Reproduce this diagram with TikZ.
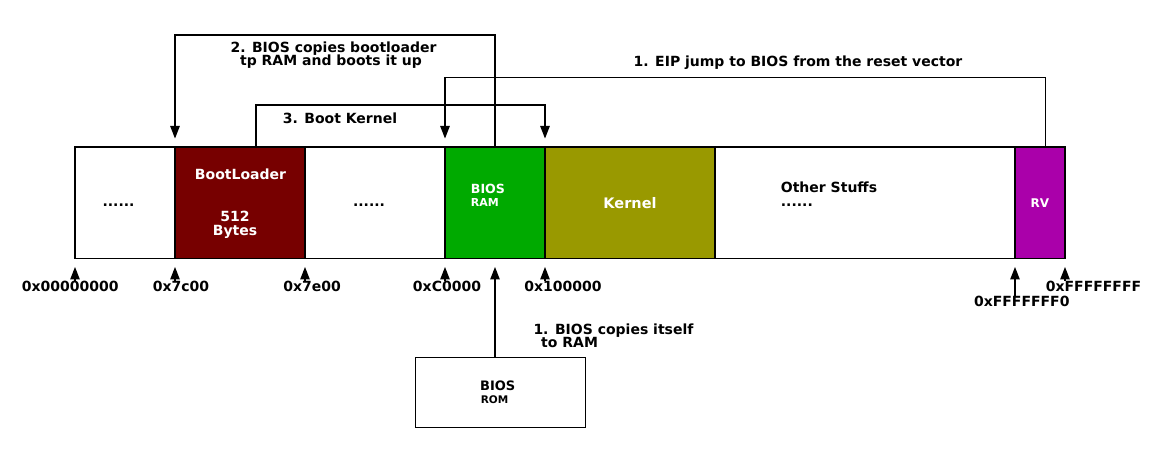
\documentclass[tikz,border=0pt]{standalone}
\usepackage{fontspec}
\setmainfont{DejaVu Sans}
\usetikzlibrary{arrows.meta}
\definecolor{bootred}{HTML}{770000}
\definecolor{biosgreen}{HTML}{00AA00}
\definecolor{kernelolive}{HTML}{999900}
\definecolor{rvpurple}{HTML}{AA00AA}
\tikzset{
  seg/.style={draw=black, line width=1.2pt, minimum height=111.5pt, inner sep=0pt, outer sep=0pt, anchor=north west},
  lbl/.style={inner sep=0pt, font=\fontsize{14}{16}\selectfont\bfseries},
  wlbl/.style={lbl, text=white},
  arr/.style={line width=1.2pt, -{Triangle[length=12.5pt,width=9.5pt]}},
  tip/.style={arr, shorten >=8.5pt},
}
\begin{document}
\begin{tikzpicture}[x=1pt,y=-1pt]
\useasboundingbox (0,0) rectangle (1160,462);
\fill[white] (0,0) rectangle (1160,462);

% memory bar segments
\node[seg, minimum width=100pt] (seg0) at (75,147) {};
\node[seg, minimum width=130pt, fill=bootred] (boot) at (175,147) {};
\node[seg, minimum width=140pt] (seg2) at (305,147) {};
\node[seg, minimum width=100pt, fill=biosgreen] (biosram) at (445,147) {};
\node[seg, minimum width=170pt, fill=kernelolive] (kernel) at (545,147) {};
\node[seg, minimum width=300pt] (other) at (715,147) {};
\node[seg, minimum width=50pt, fill=rvpurple] (rv) at (1015,147) {};

% texts inside bar
\node[lbl, anchor=base] (dots0) at (118.5,207) {......};
\node[wlbl, anchor=base] (bootlbl) at (240.5,180) {BootLoader};
\node[wlbl, anchor=base] (bootsz) at (235,221.5) {512};
\node[wlbl, anchor=base] (bootby) at (235,235.5) {Bytes};
\node[lbl, anchor=base] (dots2) at (369,207) {......};
\node[wlbl, anchor=base west, font=\fontsize{12.6}{14}\selectfont\bfseries] (ramlbl) at (470.7,194) {BIOS};
\node[wlbl, anchor=base west, font=\fontsize{11}{13}\selectfont\bfseries] (ramlbl2) at (470.7,206.7) {RAM};
\node[wlbl, anchor=base, font=\fontsize{14.5}{17}\selectfont\bfseries] (kernlbl) at (630,208.3) {Kernel};
\node[lbl, anchor=base west] (otherlbl) at (780.7,193) {Other Stuffs};
\node[lbl, anchor=base west] (dots3) at (780.7,206.7) {......};
\node[wlbl, anchor=base, font=\fontsize{12}{14}\selectfont\bfseries] (rvlbl) at (1040,208) {RV};

% address labels
\node[lbl, anchor=base] (a0) at (70.3,292) {0x00000000};
\node[lbl, anchor=base] (a1) at (181,292) {0x7c00};
\node[lbl, anchor=base] (a2) at (312,292) {0x7e00};
\node[lbl, anchor=base] (a3) at (447,292) {0xC0000};
\node[lbl, anchor=base] (a4) at (563,292) {0x100000};
\node[lbl, anchor=base] (a5) at (1021.8,306.7) {0xFFFFFFF0};
\node[lbl, anchor=base] (a6) at (1093.5,291.7) {0xFFFFFFFF};

\draw[tip] (seg0.south west |- a0.north) -- (seg0.south west);
\draw[tip] (boot.south west |- a1.north) -- (boot.south west);
\draw[tip] (seg2.south west |- a2.north) -- (seg2.south west);
\draw[tip] (biosram.south west |- a3.north) -- (biosram.south west);
\draw[tip] (kernel.south west |- a4.north) -- (kernel.south west);
\draw[tip] (rv.south west |- a5.north) -- (rv.south west);
\draw[tip] (rv.south east |- a6.north) -- (rv.south east);

% BIOS ROM
\node[draw, line width=1.2pt, minimum width=169.6pt, minimum height=70pt, anchor=north west, inner sep=0pt, outer sep=0pt] (rom) at (415.7,357.3) {};
\node[lbl, anchor=base west, font=\fontsize{13}{15}\selectfont\bfseries] (romlbl) at (480,390.7) {BIOS};
\node[lbl, anchor=base west, font=\fontsize{10.5}{12}\selectfont\bfseries] (romlbl2) at (480.7,403.3) {ROM};
\draw[tip] (biosram.south |- rom.north) -- (biosram.south);
\node[lbl, anchor=base west] (s1a) at (533.3,334.3) {1. BIOS copies itself};
\node[lbl, anchor=base west] (s1b) at (541,347.7) {to RAM};

% step 2
\coordinate (top2) at (175,35);
\draw[tip] (biosram.north) |- (top2) -- (boot.north west);
\node[lbl, anchor=base] (s2a) at (333.5,53) {2. BIOS copies bootloader};
\node[lbl, anchor=base] (s2b) at (331,66) {tp RAM and boots it up};

% step 3
\coordinate (from3) at (256,147);
\coordinate (top3) at (545,105);
\draw[tip] (from3) |- (top3) -- (kernel.north west);
\node[lbl, anchor=base] (s3) at (340,124) {3. Boot Kernel};

% step 1 EIP
\coordinate (from1) at (1045.3,147);
\coordinate (top1) at (445,77.3);
\draw[tip] (from1) |- (top1) -- (biosram.north west);
\node[lbl, anchor=base] (s1e) at (798,67) {1. EIP jump to BIOS from the reset vector};
\end{tikzpicture}
\end{document}
